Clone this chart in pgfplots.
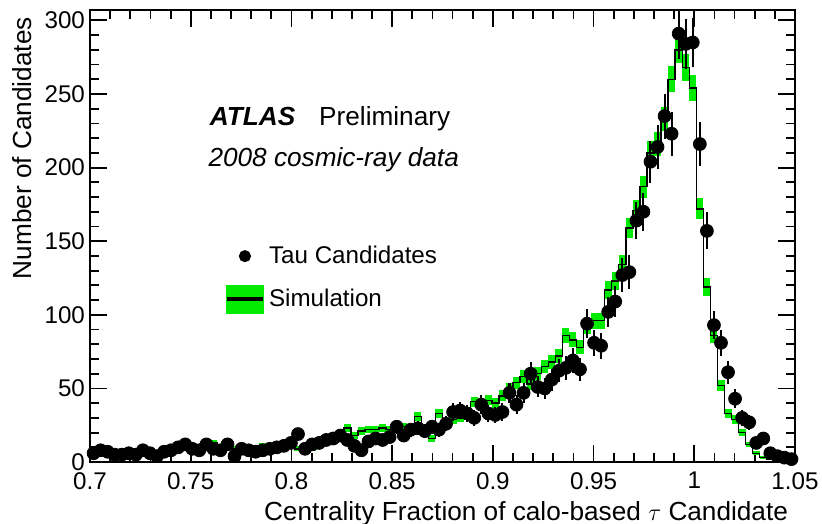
\documentclass[border=0pt]{standalone}
\usepackage{pgfplots}
\pgfplotsset{compat=1.18}
\usepackage{pgfplotstable}
\usepackage{fontspec}
\setmainfont{Liberation Sans}
\definecolor{simgreen}{RGB}{0,235,0}

% x: bin centre, d: data count, de: data error, s: simulation, se: simulation error
\pgfplotstableread{
x d de s se
0.70175 6 2.45 6 1.35
0.70525 8 2.83 7 1.46
0.70875 7 2.65 6 1.35
0.71225 5 2.24 6 1.35
0.71575 5 2.24 5 1.23
0.71925 6 2.45 6 1.35
0.72275 5 2.24 7 1.46
0.72625 8 2.83 7 1.46
0.72975 6 2.45 6 1.35
0.73325 4 2.00 6 1.35
0.73675 7 2.65 7 1.46
0.74025 8 2.83 9 1.65
0.74375 10 3.16 8 1.56
0.74725 12 3.46 9 1.65
0.75075 9 3.00 8 1.56
0.75425 8 2.83 9 1.65
0.75775 12 3.46 10 1.74
0.76125 9 3.00 13 1.98
0.76475 8 2.83 9 1.65
0.76825 12 3.46 10 1.74
0.77175 4 2.00 9 1.65
0.77525 9 3.00 11 1.82
0.77875 8 2.83 10 1.74
0.78225 7 2.65 10 1.74
0.78575 8 2.83 11 1.82
0.78925 9 3.00 11 1.82
0.79275 10 3.16 12 1.91
0.79625 11 3.32 12 1.91
0.79975 13 3.61 13 1.98
0.80325 19 4.36 9 1.65
0.80675 9 3.00 8 1.56
0.81025 12 3.46 9 1.65
0.81375 13 3.61 11 1.82
0.81725 15 3.87 13 1.98
0.82075 16 4.00 14 2.06
0.82425 18 4.24 16 2.20
0.82775 15 3.87 23 2.64
0.83125 11 3.32 18 2.33
0.83475 8 2.83 21 2.52
0.83825 14 3.74 22 2.58
0.84175 16 4.00 22 2.58
0.84525 15 3.87 23 2.64
0.84875 17 4.12 22 2.58
0.85225 24 4.90 25 2.75
0.85575 18 4.24 24 2.69
0.85925 22 4.69 22 2.58
0.86275 23 4.80 31 3.06
0.86625 21 4.58 23 2.64
0.86975 24 4.90 16 2.20
0.87325 22 4.69 33 3.16
0.87675 26 5.10 26 2.80
0.88025 34 5.83 29 2.96
0.88375 35 5.92 30 3.01
0.88725 33 5.74 32 3.11
0.89075 30 5.48 41 3.52
0.89425 39 6.24 38 3.39
0.89775 33 5.74 42 3.56
0.90125 32 5.66 40 3.48
0.90475 34 5.83 45 3.69
0.90825 47 6.86 50 3.89
0.91175 39 6.24 54 4.04
0.91525 47 6.86 58 4.19
0.91875 60 7.75 53 4.00
0.92225 51 7.14 60 4.26
0.92575 50 7.07 65 4.43
0.92925 56 7.48 68 4.54
0.93275 62 7.87 72 4.67
0.93625 64 8.00 86 5.10
0.93975 69 8.31 83 5.01
0.94325 63 7.94 78 4.86
0.94675 94 9.70 92 5.28
0.95025 81 9.00 96 5.39
0.95375 79 8.89 96 5.39
0.95725 102 10.10 117 5.95
0.96075 109 10.44 123 6.10
0.96425 127 11.27 134 6.37
0.96775 129 11.36 159 6.94
0.97125 164 12.81 171 7.19
0.97475 170 13.04 187 7.52
0.97825 204 14.28 210 7.97
0.98175 214 14.63 216 8.08
0.98525 235 15.33 233 8.40
0.98875 223 14.93 260 8.87
0.99225 291 17.06 280 9.20
0.99575 284 16.85 268 9.00
0.99925 285 16.88 254 8.77
1.00275 216 14.70 172 7.21
1.00625 157 12.53 119 6.00
1.00975 93 9.64 86 5.10
1.01325 81 9.00 52 3.97
1.01675 61 7.81 33 3.16
1.02025 43 6.56 29 2.96
1.02375 30 5.48 20 2.46
1.02725 27 5.20 12 1.91
1.03075 13 3.61 6 1.35
1.03425 16 4.00 3 0.95
1.03775 6 2.45 2 0.78
1.04125 4 2.00 1 0.55
1.04475 3 1.73 1 0.55
1.04825 2 1.41 0 0.30
}\taudata

\begin{document}
\begin{tikzpicture}
\begin{axis}[
  scale only axis,
  width=350pt, height=224.4pt,
  xmin=0.7, xmax=1.05, ymin=0, ymax=307,
  xtick={0.7,0.75,0.8,0.85,0.9,0.95,1,1.05},
  ytick={0,50,100,150,200,250,300},
  minor x tick num=4, minor y tick num=4,
  tick align=inside,
  major tick length=8.5pt, minor tick length=4.5pt,
  tick style={black, line width=0.9pt},
  axis line style={line width=1pt},
  /pgf/number format/assume math mode=true,
  tick label style={font=\fontsize{12}{14}\selectfont},
  xticklabel style={yshift=-1.5pt},
  yticklabel style={xshift=1pt},
  xlabel={Centrality Fraction of calo-based $\tau$ Candidate},
  ylabel={Number of Candidates},
  every axis x label/.style={at={(rel axis cs:1,0)}, anchor=north east, yshift=-16pt,
    font=\fontsize{13}{15.6}\selectfont},
  every axis y label/.style={at={(rel axis cs:-0.0965,1)}, anchor=east, rotate=90,
    font=\fontsize{13}{15.6}\selectfont},
  legend cell align=left,
  legend style={at={(rel axis cs:0.182,0.497)}, anchor=north west, draw=none, fill=none,
    font=\fontsize{12}{14}\selectfont, row sep=7pt,
    /tikz/every even column/.append style={column sep=4pt}},
]
\coordinate (sw) at (rel axis cs:0,0);
\coordinate (ne) at (rel axis cs:1,1);

% simulation uncertainty boxes, one per bin
\addplot[draw=none, mark=none, forget plot,
  error bars/.cd, y dir=both, y explicit, error mark=none,
  error bar style={draw=simgreen, line width=3.5pt}]
  table[x=x, y=s, y error=se] {\taudata};
% simulation histogram
\addplot[black, line width=0.7pt, const plot mark mid, mark=none, forget plot]
  table[x=x, y=s] {\taudata};
% data points
\addplot[black, only marks, mark=*, mark size=3.2pt,
  legend image code/.code={\fill[black] (9pt,0pt) circle (2.8pt);},
  error bars/.cd, y dir=both, y explicit, error mark=none,
  error bar style={black, line width=1pt}]
  table[x=x, y=d, y error=de] {\taudata};
\addlegendentry{Tau Candidates}
\addlegendimage{legend image code/.code={
  \fill[simgreen] (0pt,-7pt) rectangle (18pt,7pt);
  \draw[black, line width=2pt] (0pt,0pt) -- (18pt,0pt);}}
\addlegendentry{Simulation}

\node[anchor=base west, font=\fontsize{13}{15.6}\selectfont\bfseries\itshape]
  at (rel axis cs:0.160,0.7456) {ATLAS};
\node[anchor=base west, font=\fontsize{13}{15.6}\selectfont]
  at (rel axis cs:0.315,0.7456) {Preliminary};
\node[anchor=base west, font=\fontsize{13}{15.6}\selectfont\itshape]
  at (rel axis cs:0.158,0.655) {2008 cosmic-ray data};
\end{axis}
\pgfresetboundingbox
\path[use as bounding box] ([xshift=-44.7pt,yshift=-30.3pt]sw) rectangle ([xshift=13.4pt,yshift=5pt]ne);
\end{tikzpicture}
\end{document}
